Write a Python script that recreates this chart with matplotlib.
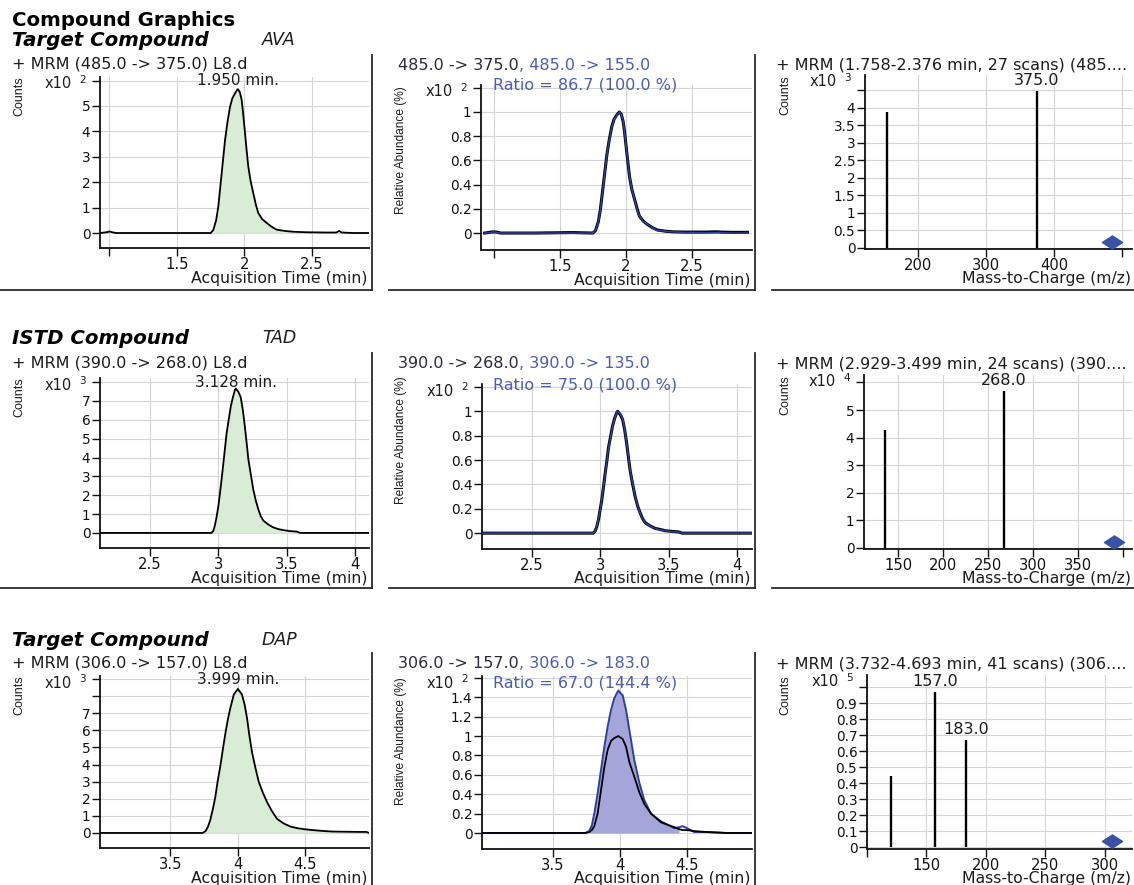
import matplotlib
matplotlib.use("Agg")
import matplotlib.pyplot as plt
from matplotlib.lines import Line2D
from matplotlib.path import Path
from matplotlib.text import Annotation
import numpy as np

# ====================== DATA ======================
report_title = "Compound Graphics"
row_kinds = ["Target Compound", "ISTD Compound", "Target Compound"]
compound_names = ["AVA", "TAD", "DAP"]

# --- Row 1 : AVA  (counts x10^2) ---
ava_time = [0.93, 0.98, 1.0, 1.02, 1.05, 1.3, 1.6, 1.75, 1.769, 1.79,
            1.806, 1.831, 1.856, 1.875, 1.893, 1.91, 1.93, 1.95, 1.965, 1.979,
            1.99, 2.004, 2.015, 2.028, 2.045, 2.065, 2.085, 2.102, 2.13, 2.164,
            2.2, 2.238, 2.3, 2.36, 2.45, 2.6, 2.68, 2.70, 2.72, 2.8, 2.92]
ava_counts = [0.0, 0.03, 0.06, 0.03, 0.0, 0.0, 0.0, 0.0, 0.12, 0.5,
              1.04, 2.35, 3.66, 4.4, 4.97, 5.3, 5.5, 5.67, 5.55, 5.24,
              4.7, 3.93, 3.3, 2.62, 2.05, 1.57, 1.1, 0.79, 0.55, 0.4,
              0.25, 0.13, 0.08, 0.05, 0.03, 0.02, 0.02, 0.08, 0.02, 0.0, 0.0]
ava_quant_rel = [0.0, 0.005, 0.01, 0.005, 0.0, 0.0, 0.0, 0.0, 0.021, 0.088,
                 0.183, 0.414, 0.646, 0.776, 0.877, 0.935, 0.97, 1.0, 0.979, 0.924,
                 0.829, 0.693, 0.582, 0.462, 0.362, 0.277, 0.194, 0.139, 0.097, 0.071,
                 0.044, 0.023, 0.014, 0.009, 0.005, 0.004, 0.004, 0.006, 0.004, 0.0, 0.0]
ava_qual_rel = [0.0, 0.008, 0.01, 0.008, 0.0, 0.0, 0.004, 0.0, 0.02, 0.09,
                0.19, 0.42, 0.65, 0.78, 0.88, 0.94, 0.975, 1.0, 0.98, 0.92,
                0.83, 0.69, 0.58, 0.46, 0.36, 0.28, 0.2, 0.14, 0.1, 0.07,
                0.045, 0.025, 0.015, 0.01, 0.008, 0.008, 0.01, 0.01, 0.008, 0.006, 0.006]
ava_rt = 1.950
ava_window = (1.769, 2.36)
ava_mz = [155.0, 375.0]
ava_intensity = [3.89, 4.49]          # x10^3
ava_labeled = [False, True]
ava_precursor = (485.0, 0.17)

# --- Row 2 : TAD  (counts x10^3) ---
tad_time = [2.13, 2.5, 2.9, 2.95, 2.963, 2.975, 2.988, 3.0, 3.012, 3.025,
            3.037, 3.049, 3.061, 3.076, 3.091, 3.107, 3.122, 3.128, 3.146, 3.164,
            3.18, 3.195, 3.207, 3.22, 3.238, 3.256, 3.275, 3.293, 3.31, 3.33,
            3.365, 3.40, 3.44, 3.476, 3.52, 3.574, 3.6, 3.8, 4.11]
tad_counts = [0, 0, 0, 0.0, 0.1, 0.4, 0.87, 1.4, 2.1, 2.9,
              3.7, 4.5, 5.3, 6.0, 6.7, 7.2, 7.6, 7.65, 7.5, 7.2,
              6.5, 5.6, 4.8, 3.9, 3.1, 2.3, 1.7, 1.25, 0.9, 0.65,
              0.45, 0.3, 0.2, 0.15, 0.1, 0.07, 0.0, 0.0, 0.0]
tad_quant_rel = [0, 0, 0, 0, 0.013, 0.052, 0.114, 0.183, 0.275, 0.379,
                 0.484, 0.588, 0.693, 0.784, 0.876, 0.941, 0.993, 1.0, 0.98, 0.941,
                 0.85, 0.732, 0.627, 0.51, 0.405, 0.301, 0.222, 0.163, 0.118, 0.085,
                 0.059, 0.039, 0.026, 0.02, 0.013, 0.009, 0, 0, 0]
tad_qual_rel = [0, 0, 0, 0, 0.015, 0.05, 0.11, 0.19, 0.27, 0.38,
                0.49, 0.59, 0.70, 0.79, 0.88, 0.945, 0.99, 1.0, 0.975, 0.935,
                0.845, 0.73, 0.62, 0.51, 0.40, 0.30, 0.22, 0.165, 0.12, 0.085,
                0.06, 0.04, 0.03, 0.02, 0.015, 0.01, 0, 0, 0]
tad_rt = 3.128
tad_window = (2.963, 3.574)
tad_mz = [135.0, 268.0]
tad_intensity = [4.28, 5.69]          # x10^4
tad_labeled = [False, True]
tad_precursor = (390.0, 0.22)

# --- Row 3 : DAP  (counts x10^3) ---
dap_time = [2.98, 3.5, 3.74, 3.76, 3.778, 3.796, 3.815, 3.833, 3.85, 3.87,
            3.888, 3.907, 3.925, 3.944, 3.97, 4.0, 4.03, 4.05, 4.068, 4.085,
            4.105, 4.13, 4.154, 4.185, 4.216, 4.25, 4.29, 4.34, 4.39, 4.44,
            4.49, 4.55, 4.61, 4.66, 4.71, 4.8, 4.9, 4.95, 4.97]
dap_counts = [0, 0, 0, 0.1, 0.35, 0.76, 1.4, 2.1, 3.0, 3.9,
              4.85, 5.8, 6.6, 7.3, 8.1, 8.42, 8.1, 7.5, 6.7, 5.7,
              4.7, 3.8, 3.0, 2.35, 1.8, 1.3, 0.82, 0.55, 0.37, 0.28,
              0.22, 0.17, 0.13, 0.1, 0.08, 0.07, 0.06, 0.06, 0.0]
dap_rel_time = [2.97, 3.5, 3.74, 3.77, 3.79, 3.808, 3.833, 3.858, 3.883, 3.908,
                3.933, 3.957, 3.987, 4.02, 4.045, 4.07, 4.107, 4.144, 4.181, 4.231,
                4.306, 4.405, 4.44, 4.468, 4.5, 4.554, 4.65, 4.8, 4.9, 4.985]
dap_qual_rel = [0, 0, 0, 0.02, 0.08, 0.2, 0.41, 0.65, 0.89, 1.1,
                1.27, 1.39, 1.47, 1.42, 1.27, 1.06, 0.75, 0.52, 0.34, 0.2,
                0.12, 0.05, 0.06, 0.07, 0.05, 0.01, 0.01, 0, 0, 0]
dap_quant_rel = [0, 0, 0, 0.01, 0.03, 0.07, 0.2, 0.44, 0.68, 0.86,
                 0.95, 0.98, 1.0, 0.97, 0.89, 0.73, 0.58, 0.42, 0.3, 0.2,
                 0.11, 0.06, 0.04, 0.03, 0.03, 0.02, 0.01, 0, 0, 0]
dap_qual_fill_end = 4.44
dap_rt = 3.999
dap_window = (3.76, 4.71)
dap_mz = [120.0, 157.0, 183.0]
dap_intensity = [0.447, 0.97, 0.67]   # x10^5
dap_labeled = [False, True, True]
dap_precursor = (306.0, 0.037)

chrom_headers = ["+ MRM (485.0 -> 375.0) L8.d", "+ MRM (390.0 -> 268.0) L8.d",
                 "+ MRM (306.0 -> 157.0) L8.d"]
quant_transitions = ["485.0 -> 375.0", "390.0 -> 268.0", "306.0 -> 157.0"]
qual_transitions = [", 485.0 -> 155.0", ", 390.0 -> 135.0", ", 306.0 -> 183.0"]
ratio_texts = ["Ratio = 86.7 (100.0 %)", "Ratio = 75.0 (100.0 %)", "Ratio = 67.0 (144.4 %)"]
spec_headers = ["+ MRM (1.758-2.376 min, 27 scans) (485....",
                "+ MRM (2.929-3.499 min, 24 scans) (390....",
                "+ MRM (3.732-4.693 min, 41 scans) (306...."]
chrom_exp = ["2", "3", "3"]
rel_exp = ["2", "2", "2"]
spec_exp = ["3", "4", "5"]

# tick values / labels
r1_xt = [1.0, 1.5, 2.0, 2.5];       r1_xl = ["", "1.5", "2", "2.5"]
r2_xt = [2.5, 3.0, 3.5, 4.0];       r2_xl = ["2.5", "3", "3.5", "4"]
r3_xt = [3.5, 4.0, 4.5];            r3_xl = ["3.5", "4", "4.5"]
r1_cyt = [0, 1, 2, 3, 4, 5, 6];     r1_cyl = ["0", "1", "2", "3", "4", "5", ""]
r2_cyt = [0, 1, 2, 3, 4, 5, 6, 7, 8]; r2_cyl = ["0", "1", "2", "3", "4", "5", "6", "7", ""]
r3_cyt = [0, 1, 2, 3, 4, 5, 6, 7, 8, 9]; r3_cyl = ["0", "1", "2", "3", "4", "5", "6", "7", "", ""]
r12_ryt = [0, 0.2, 0.4, 0.6, 0.8, 1.0, 1.2]; r12_ryl = ["0", "0.2", "0.4", "0.6", "0.8", "1", ""]
r3_ryt = [0, 0.2, 0.4, 0.6, 0.8, 1.0, 1.2, 1.4, 1.6]
r3_ryl = ["0", "0.2", "0.4", "0.6", "0.8", "1", "1.2", "1.4", ""]
s1_xt = [200, 300, 400, 500];       s1_xl = ["200", "300", "400", ""]
s2_xt = [150, 200, 250, 300, 350, 400]; s2_xl = ["150", "200", "250", "300", "350", ""]
s3_xt = [100, 150, 200, 250, 300];  s3_xl = ["", "150", "200", "250", "300"]
s1_yt = [0, 0.5, 1, 1.5, 2, 2.5, 3, 3.5, 4, 4.5]
s1_yl = ["0", "0.5", "1", "1.5", "2", "2.5", "3", "3.5", "4", ""]
s2_yt = [0, 1, 2, 3, 4, 5, 6];      s2_yl = ["0", "1", "2", "3", "4", "5", ""]
s3_yt = [0, 0.1, 0.2, 0.3, 0.4, 0.5, 0.6, 0.7, 0.8, 0.9, 1.0]
s3_yl = ["0", "0.1", "0.2", "0.3", "0.4", "0.5", "0.6", "0.7", "0.8", "0.9", ""]

# ====================== STYLE / LAYOUT ======================
W, H = 1134, 885
fig = plt.figure(figsize=(W / 100, H / 100), dpi=100)
fig.patch.set_facecolor("white")
FONT = "DejaVu Sans"
NARROW = ["Liberation Sans", "DejaVu Sans"]
plt.rcParams["font.family"] = FONT
DARK = "#1c1c1c"
BLUE_TXT = "#4b5cb3"
BLUE_LINE = "#2f3f9e"
GREEN_FILL = "#d9ecd5"
PURPLE_FILL = "#a4a5d8"
GRID = "#d3d3d3"
YTICK_FS = 9.8
XTICK_FS = 10.6
HDR_FS = 11.5


def fx(x):
    return x / W


def fy(y):
    return 1 - y / H


def ftext(x, y, s, **kw):
    kw.setdefault("va", "center")
    kw.setdefault("ha", "left")
    kw.setdefault("color", DARK)
    return fig.text(fx(x), fy(y), s, **kw)


def make_axes(l, r, t, b, xlim, ylim, xt, xl, yt, yl):
    ax = fig.add_axes([fx(l), fy(b), (r - l) / W, (b - t) / H])
    ax.set_facecolor("none")
    for s in ("top", "right"):
        ax.spines[s].set_visible(False)
    for s in ("left", "bottom"):
        ax.spines[s].set_linewidth(1.3)
        ax.spines[s].set_color("#111111")
    ax.set_xlim(*xlim)
    ax.set_ylim(*ylim)
    ax.set_xticks(xt)
    ax.set_xticklabels(xl)
    ax.set_yticks(yt)
    ax.set_yticklabels(yl)
    ax.tick_params(axis="x", direction="out", length=5.8, width=1.0, color="#111111",
                   labelsize=XTICK_FS, pad=0.8, labelcolor="#111111")
    ax.tick_params(axis="y", direction="out", length=5.5, width=1.0, color="#111111",
                   labelsize=YTICK_FS, pad=1.5, labelcolor="#111111")
    ax.set_axisbelow(True)
    ax.grid(True, color=GRID, lw=0.8)
    return ax


def multiplier(l, t, exp):
    ftext(l - 28, t + 7, "x10", ha="right", fontsize=10.5)
    ftext(l - 21, t + 3, exp, ha="left", fontsize=7.5)


def xlabel(ax, s):
    ax.annotate(s, xy=(1, 0), xycoords="axes fraction", xytext=(-1, -30),
                textcoords="offset pixels", ha="right", va="center",
                fontsize=11.3, color=DARK, annotation_clip=False)


def ylabel(x, t, s, size):
    ftext(x, t, s, rotation=90, ha="center", va="top", fontsize=size, family=NARROW)


def chrom_panel(l, r, t, b, xlim, ylim, xt, xl, yt, yl, time, counts, window, rt, exp):
    ax = make_axes(l, r, t, b, xlim, ylim, xt, xl, yt, yl)
    tt = np.asarray(time)
    cc = np.asarray(counts)
    mask = (tt >= window[0]) & (tt <= window[1])
    ax.fill_between(tt, 0, cc, where=mask, color=GREEN_FILL, lw=0, zorder=2)
    ax.plot(tt, cc, color="black", lw=1.3, zorder=3, solid_joinstyle="miter")
    ax.annotate(f"{rt:.3f} min.", xy=(rt, 1), xycoords=("data", "axes fraction"),
                xytext=(0, -4), textcoords="offset pixels", ha="center", va="center",
                fontsize=11, color=DARK, annotation_clip=False)
    multiplier(l, t, exp)
    ylabel(19, t - 1, "Counts", 9)
    xlabel(ax, "Acquisition Time (min)")
    return ax


def rel_panel(l, r, t, b, xlim, ylim, xt, xl, yt, yl, time, quant, qual, exp, ytop,
              qual_time=None, fill_end=None):
    ax = make_axes(l, r, t, b, xlim, ylim, xt, xl, yt, yl)
    tq = np.asarray(time)
    if qual_time is None:
        ax.plot(tq, qual, color="black", lw=2.2, zorder=3)
        ax.plot(tq, quant, color=BLUE_LINE, lw=1.1, zorder=4)
    else:
        tl = np.asarray(qual_time)
        ql = np.asarray(qual)
        ax.fill_between(tl, 0, ql, where=(tl <= fill_end) & (ql > 0.0), color=PURPLE_FILL,
                        lw=0, zorder=2)
        ax.plot(tl, ql, color=BLUE_LINE, lw=1.4, zorder=3)
        ax.plot(tl, quant, color="black", lw=1.3, zorder=4)
    multiplier(l, t, exp)
    ylabel(401, ytop, "Relative Abundance (%)", 8.6)
    xlabel(ax, "Acquisition Time (min)")
    return ax


DIAMOND = Path([(-1, 0), (0, 0.65), (1, 0), (0, -0.65), (-1, 0)],
               [Path.MOVETO, Path.LINETO, Path.LINETO, Path.LINETO, Path.CLOSEPOLY])


def spec_panel(l, r, t, b, xlim, ylim, xt, xl, yt, yl, mz, inten, labeled, prec, exp):
    ax = make_axes(l, r, t, b, xlim, ylim, xt, xl, yt, yl)
    ax.vlines(mz, 0, inten, color="black", lw=1.7, zorder=3)
    for m, v, lab in zip(mz, inten, labeled):
        if lab:
            ax.annotate(f"{m:.1f}", xy=(m, v), xytext=(0, 10), textcoords="offset pixels",
                        ha="center", va="center", fontsize=11.5, color=DARK,
                        annotation_clip=False)
    ax.plot([prec[0]], [prec[1]], marker=DIAMOND, ms=14.5, color="#3853a6",
            ls="none", zorder=5, clip_on=False)
    multiplier(l, t, exp)
    ylabel(785, t, "Counts", 9)
    xlabel(ax, "Mass-to-Charge (m/z)")
    return ax


# ---------------- titles / headers ----------------
ftext(12, 20, report_title, fontsize=14.2, fontweight="bold", color="black")
row_title_y = [40, 338, 640]
row_hdr_y = [64, 363, 663]
row_ratio_y = [85, 385, 683]
for i in range(3):
    ftext(12, row_title_y[i], row_kinds[i], fontsize=14.2, fontweight="bold",
          fontstyle="italic", color="black")
    ftext(262, row_title_y[i], compound_names[i], fontsize=12.5, fontstyle="italic", color=DARK)
    ftext(12, row_hdr_y[i], chrom_headers[i], fontsize=HDR_FS)
    t1 = ftext(398, row_hdr_y[i] + 1, quant_transitions[i], fontsize=HDR_FS, color="#2a2a3a")
    fig.add_artist(Annotation(qual_transitions[i], xy=(1, 0), xycoords=t1, ha="left",
                              va="bottom", fontsize=HDR_FS, color=BLUE_TXT))
    ftext(493, row_ratio_y[i], ratio_texts[i], fontsize=HDR_FS, color=BLUE_TXT)
    ftext(776, row_hdr_y[i] + 1, spec_headers[i], fontsize=HDR_FS)

# ---------------- panels ----------------
chrom_panel(100, 369, 77, 248, (0.930, 2.922), (-0.59, 6.14), r1_xt, r1_xl, r1_cyt, r1_cyl,
            ava_time, ava_counts, ava_window, ava_rt, chrom_exp[0])
rel_panel(481, 752, 85, 250, (0.902, 2.955), (-0.14, 1.223), r1_xt, r1_xl, r12_ryt, r12_ryl,
          ava_time, ava_quant_rel, ava_qual_rel, rel_exp[0], 86)
spec_panel(865, 1132, 75, 249, (122, 514.7), (-0.03, 4.94), s1_xt, s1_xl, s1_yt, s1_yl,
           ava_mz, ava_intensity, ava_labeled, ava_precursor, spec_exp[0])

chrom_panel(100, 369, 378, 548, (2.134, 4.103), (-0.80, 8.22), r2_xt, r2_xl, r2_cyt, r2_cyl,
            tad_time, tad_counts, tad_window, tad_rt, chrom_exp[1])
rel_panel(482, 752, 384, 549, (2.137, 4.11), (-0.13, 1.224), r2_xt, r2_xl, r12_ryt, r12_ryl,
          tad_time, tad_quant_rel, tad_qual_rel, rel_exp[1], 376)
spec_panel(864, 1132, 375, 549, (112.2, 410), (-0.04, 6.27), s2_xt, s2_xl, s2_yt, s2_yl,
           tad_mz, tad_intensity, tad_labeled, tad_precursor, spec_exp[1])

chrom_panel(100, 369, 676, 848, (2.98, 4.97), (-0.88, 9.18), r3_xt, r3_xl, r3_cyt, r3_cyl,
            dap_time, dap_counts, dap_window, dap_rt, chrom_exp[2])
rel_panel(482, 752, 676, 849, (2.97, 4.985), (-0.165, 1.62), r3_xt, r3_xl, r3_ryt, r3_ryl,
          dap_rel_time, dap_quant_rel, dap_qual_rel, rel_exp[2], 677,
          qual_time=dap_rel_time, fill_end=dap_qual_fill_end)
spec_panel(867, 1132, 675, 849, (101.4, 323), (-0.012, 1.075), s3_xt, s3_xl, s3_yt, s3_yl,
           dap_mz, dap_intensity, dap_labeled, dap_precursor, spec_exp[2])

# ---------------- panel frames ----------------
def fline(x0, y0, x1, y1):
    fig.add_artist(Line2D([fx(x0), fx(x1)], [fy(y0), fy(y1)], transform=fig.transFigure,
                          color="#2a2a2a", lw=1.3))


row_tops = [55, 353, 653]
row_bots = [290, 588, 886]
for i in range(3):
    fline(372, row_tops[i], 372, row_bots[i])
    fline(755, row_tops[i], 755, row_bots[i])
for yb in row_bots[:2]:
    fline(0, yb, 372, yb)
    fline(389, yb, 755, yb)
    fline(772, yb, 1134, yb)

fig.savefig("out.png", dpi=100, facecolor="white")
